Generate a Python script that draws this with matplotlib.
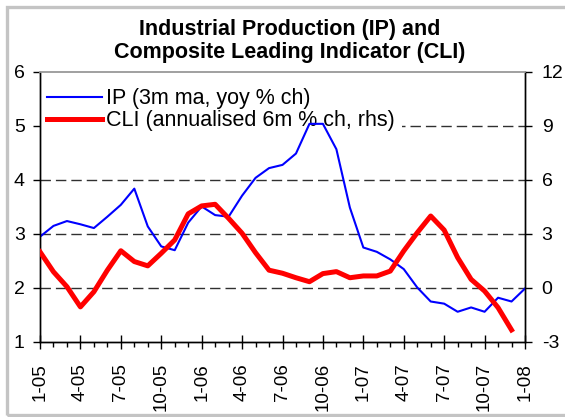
import matplotlib
matplotlib.use('Agg')
import matplotlib.pyplot as plt
import numpy as np
from matplotlib.patches import Rectangle
from matplotlib.lines import Line2D

plt.rcParams['font.family'] = ['Liberation Sans', 'DejaVu Sans']
plt.rcParams['axes.unicode_minus'] = False

# IP: 3m moving average, yoy % change (left axis), monthly Jan-05 .. Jan-08
ip = [2.95, 3.15, 3.24, 3.18, 3.11, 3.32, 3.54, 3.84, 3.14, 2.77,
      2.70, 3.21, 3.51, 3.35, 3.32, 3.71, 4.04, 4.22, 4.28, 4.49,
      5.04, 5.04, 4.57, 3.49, 2.75, 2.67, 2.53, 2.35, 2.01, 1.75,
      1.71, 1.56, 1.64, 1.56, 1.82, 1.75, 1.99]
# CLI: annualised 6m % change (right axis), monthly Jan-05 .. Dec-07
cli = [2.01, 0.90, 0.07, -1.05, -0.21, 0.99, 2.07, 1.47, 1.23, 1.93,
       2.67, 4.12, 4.56, 4.65, 3.87, 3.04, 1.96, 0.99, 0.82, 0.57,
       0.35, 0.80, 0.91, 0.57, 0.67, 0.67, 0.94, 2.06, 3.07, 4.00,
       3.22, 1.69, 0.48, -0.17, -1.09, -2.33]
tick_labels = ['1-05', '4-05', '7-05', '10-05', '1-06', '4-06', '7-06',
               '10-06', '1-07', '4-07', '7-07', '10-07', '1-08']
left_ticks = [1, 2, 3, 4, 5, 6]
right_ticks = [-3, 0, 3, 6, 9, 12]
ip_label = 'IP (3m ma, yoy % ch)'
cli_label = 'CLI (annualised 6m % ch, rhs)'
title = 'Industrial Production (IP) and\nComposite Leading Indicator (CLI)'

W, H = 565, 417
fig = plt.figure(figsize=(W / 100, H / 100), dpi=100)
fig.patch.set_facecolor('white')

# grey outer frame
fig.patches.append(Rectangle((6.5 / W, 2.5 / H), 1.2, (H - 9.0) / H,
                             transform=fig.transFigure, fill=False,
                             edgecolor='#c4c4c4', linewidth=2.4, zorder=0))

ax = fig.add_axes([40 / W, 1 - 342 / H, 485 / W, 270 / H])
ax2 = ax.twinx()

x_ip = np.arange(len(ip))
x_cli = np.arange(len(cli))

ax.set_xlim(0, len(ip) - 1)
ax.set_ylim(min(left_ticks), max(left_ticks))
ax2.set_ylim(min(right_ticks), max(right_ticks))

# dashed grid lines
for v in left_ticks[1:-1]:
    ax.axhline(v, color='#303030', lw=1.0, ls=(0, (7.5, 3.6)), zorder=1)

ax.plot(x_ip, ip, color='#0000ff', lw=1.5, zorder=3)
ax2.plot(x_cli, cli, color='#ff0000', lw=3.6, solid_joinstyle='round', zorder=3)

ax.set_yticks(left_ticks)
ax2.set_yticks(right_ticks)
ax.set_xticks(np.arange(0, len(ip), 3))
ax.set_xticklabels(tick_labels, rotation=90)
ax.set_xticks(np.arange(0, len(ip)), minor=True)

ax.tick_params(axis='x', which='major', direction='inout', length=10,
               width=1, pad=10, labelsize=13.5)
ax.tick_params(axis='x', which='minor', direction='out', length=3.5, width=1)
ax.tick_params(axis='y', which='major', direction='out', length=5,
               width=1, pad=6, labelsize=14)
ax2.tick_params(axis='y', which='major', direction='out', length=5,
                width=1, pad=7, labelsize=14)

for a in (ax, ax2):
    for s in ('left', 'right', 'bottom'):
        a.spines[s].set_color('black')
        a.spines[s].set_linewidth(1.0)
    a.spines['top'].set_color('#a0a0a0')
    a.spines['top'].set_linewidth(1.2)

handles = [Line2D([], [], color='#0000ff', lw=1.5),
           Line2D([], [], color='#ff0000', lw=3.6)]
leg = ax.legend(handles, [ip_label, cli_label], loc='upper left',
                bbox_to_anchor=(-9 / 485, 1.0), fontsize=15.5, frameon=True,
                fancybox=False, framealpha=1, facecolor='white',
                edgecolor='none', borderpad=0.3, labelspacing=0.05,
                handlelength=2.55, handletextpad=0.2, borderaxespad=0.45)
leg.set_zorder(2)

fig.text(290 / W, 1 - 19 / H, title, ha='center', va='top',
         fontsize=15.5, fontweight='bold', linespacing=1.15)

fig.savefig('out.png', dpi=100)
